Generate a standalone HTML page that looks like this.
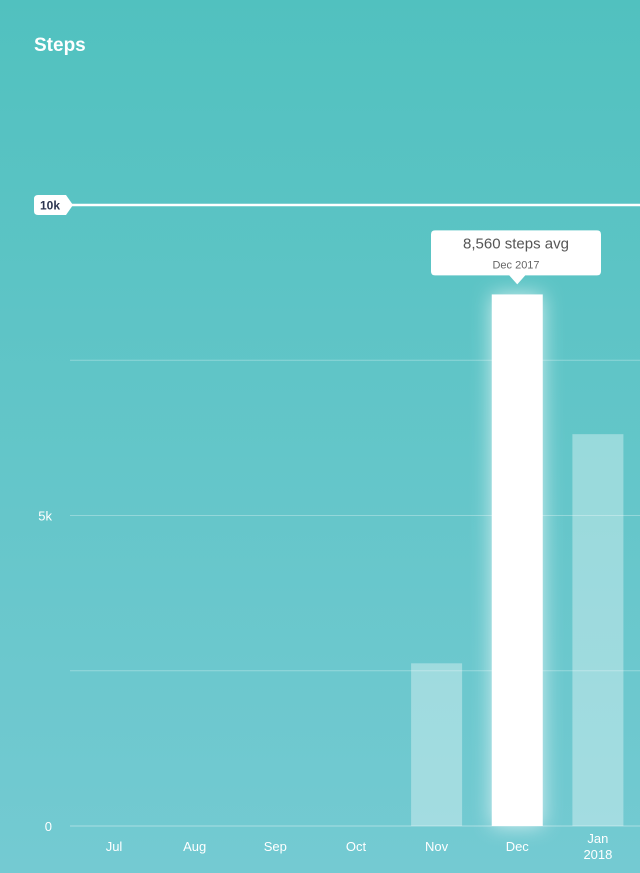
<!DOCTYPE html>
<html><head><meta charset="utf-8"><style>
html,body{margin:0;padding:0}
body{width:640px;height:873px;overflow:hidden;background:linear-gradient(#51c1bf,#74cad2);font-family:"Liberation Sans",sans-serif;position:relative}
svg{position:absolute;left:0;top:0}
</style></head><body>
<svg id="chart" width="640" height="873">
<defs><filter id="glow" x="-50%" y="-20%" width="200%" height="140%"><feGaussianBlur stdDeviation="10"/></filter></defs>
<text x="34" y="51" fill="#fff" font-size="19" font-weight="bold">Steps</text>
<g id="grid"></g><g id="bars"></g><g id="xlabels"></g>
</svg>
<script>
const categories=["Jul","Aug","Sep","Oct","Nov","Dec","Jan"];
const subLabels=["","","","","","","2018"];
const values=[0,0,0,0,2620,8560,6310];
const gridValues=[2500,5000,7500];
const tickValues=[0,5000];
const tickLabels=["0","5k"];
const goal=10000;
const selected=5;
const NS="http://www.w3.org/2000/svg";
const svg=document.getElementById('chart');
function y(v){return 826-v*0.0621;}
function x(i){return 114+i*80.65;}
function mk(t,a,p){const e=document.createElementNS(NS,t);for(const k in a)e.setAttribute(k,a[k]);(p||svg).appendChild(e);return e;}
const g=document.getElementById('grid');
gridValues.forEach(v=>{const l=mk('line',{x1:70,x2:640,y1:y(v),y2:y(v),stroke:'rgba(255,255,255,0.3)','stroke-width':1},g);

});
const base=mk('line',{x1:70,x2:640,y1:y(0),y2:y(0),stroke:'rgba(255,255,255,0.4)','stroke-width':1},g);


tickValues.forEach((v,i)=>{const t=mk('text',{x:52,y:y(v)+5,fill:'#fff','font-size':13,'text-anchor':'end'},g);t.textContent=tickLabels[i];

});
// goal line
const gl=mk('line',{x1:70,x2:640,y1:y(goal),y2:y(goal),stroke:'#fff','stroke-width':2.5},g);


const gy=y(goal);
const gb=mk('path',{d:`M38 ${gy-10}H66L73 ${gy}L66 ${gy+10}H38Q34 ${gy+10} 34 ${gy+6}V${gy-6}Q34 ${gy-10} 38 ${gy-10}Z`,fill:'#fff'},g);


const gt=mk('text',{x:50,y:gy+4.5,fill:'#2c3550','font-size':12,'font-weight':'bold','text-anchor':'middle'},g);gt.textContent='10k';


const bg=document.getElementById('bars');
values.forEach((v,i)=>{if(v<=0)return;
 const bx=x(i)-25.5,by=y(v),h=y(0)-y(v);
 if(i===selected){const gw=mk('rect',{x:bx,y:by,width:51,height:h,fill:'#fff',opacity:0.7,filter:'url(#glow)'},bg);
 
 }
 const r=mk('rect',{x:bx,y:by,width:51,height:h,fill:i===selected?'#fff':'rgba(255,255,255,0.35)'},bg);
 
 
});
// tooltip
const tx=x(selected),ty=y(values[selected]);
const tp=mk('path',{d:`M435 ${ty-64}H597Q601 ${ty-64} 601 ${ty-60}V${ty-23}Q601 ${ty-19} 597 ${ty-19}H${tx+8}L${tx} ${ty-10}L${tx-8} ${ty-19}H435Q431 ${ty-19} 431 ${ty-23}V${ty-60}Q431 ${ty-64} 435 ${ty-64}Z`,fill:'#fff'},bg);


const t1=mk('text',{x:516,y:ty-46,fill:'#555','font-size':15,'text-anchor':'middle'},bg);t1.textContent=values[selected].toLocaleString('en-US')+' steps avg';


const t2=mk('text',{x:516,y:ty-26,fill:'#666','font-size':11,'text-anchor':'middle'},bg);t2.textContent='Dec 2017';


const xl=document.getElementById('xlabels');
categories.forEach((c,i)=>{const t=mk('text',{x:x(i),y:851,fill:'#fff','font-size':13,'text-anchor':'middle'},xl);
 t.textContent=c;
 
 
 if(i<categories.length-1&&!subLabels[i])return;
 if(subLabels[i]){t.setAttribute('y',843);const s=mk('text',{x:x(i),y:859,fill:'#fff','font-size':13,'text-anchor':'middle'},xl);s.textContent=subLabels[i];
 
 }
});
</script>
</body></html>
